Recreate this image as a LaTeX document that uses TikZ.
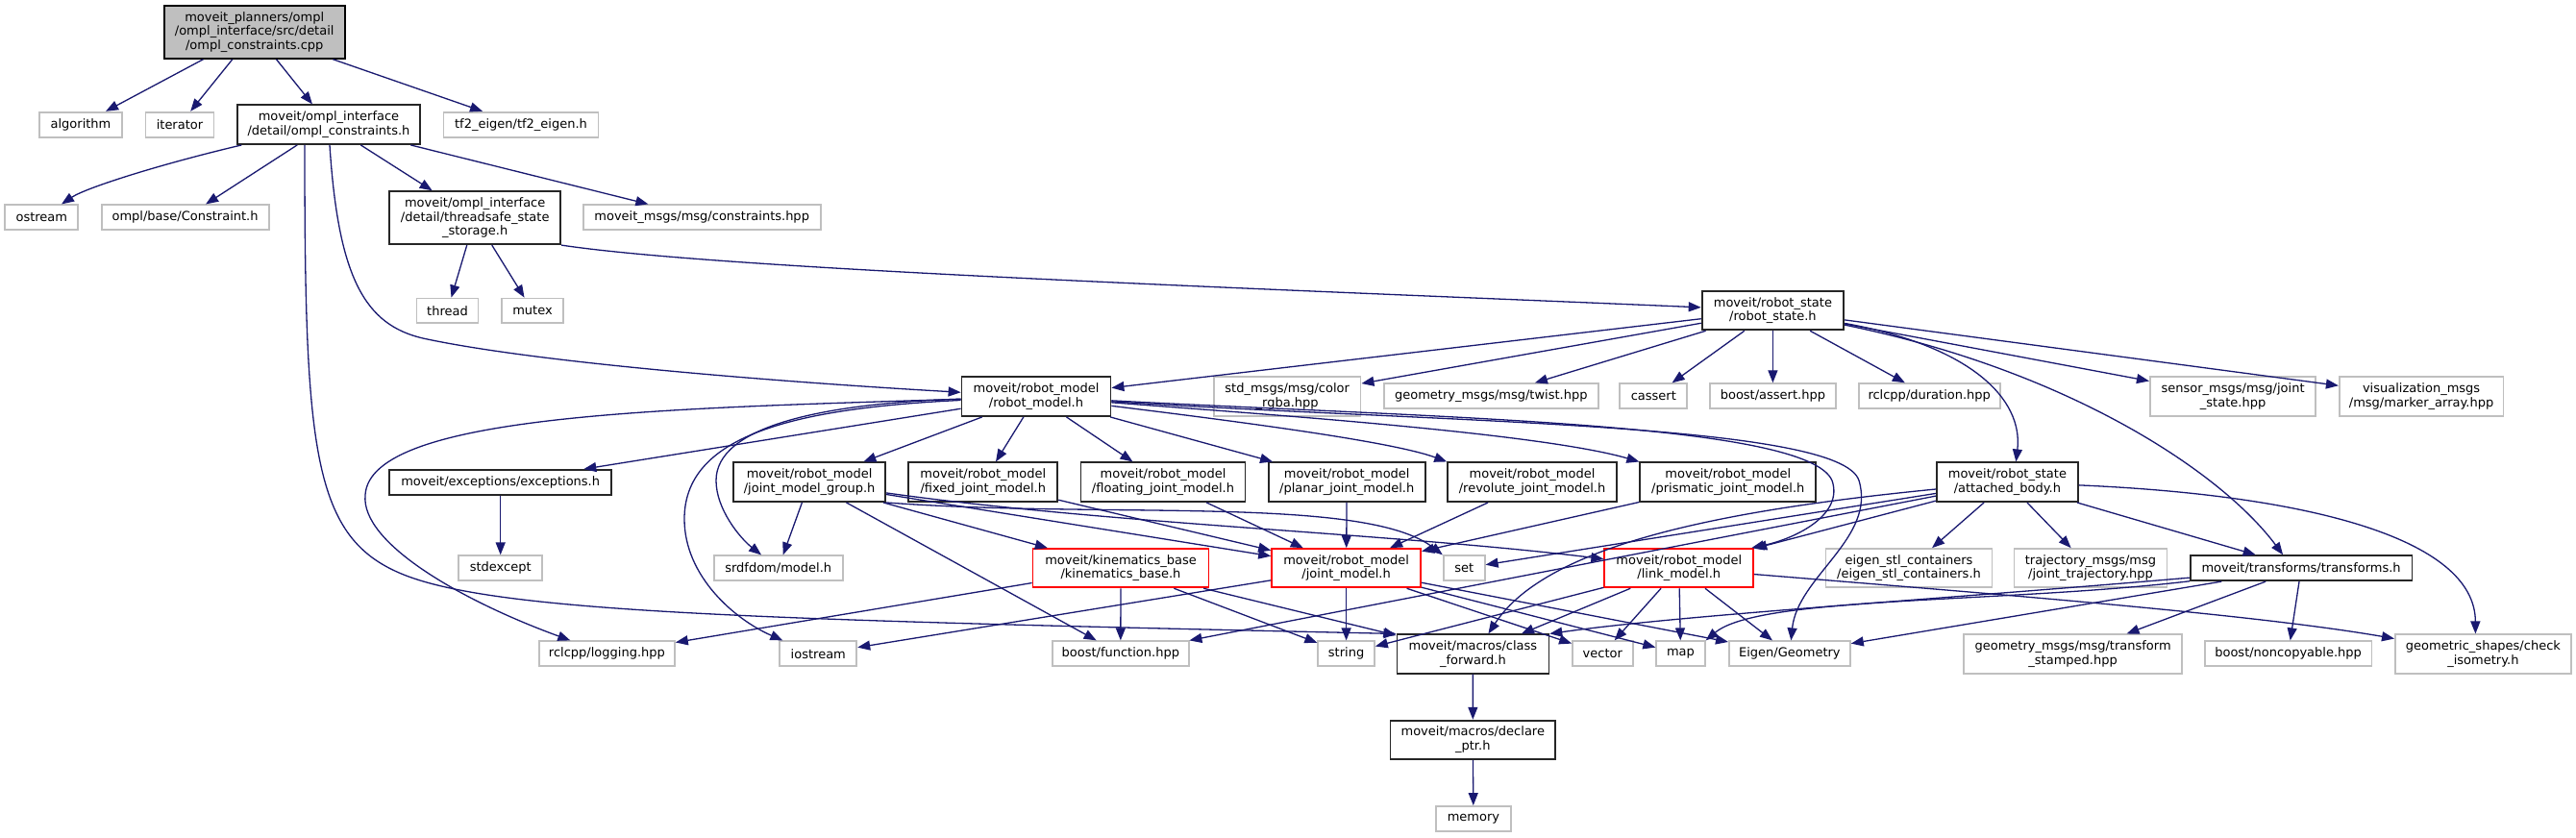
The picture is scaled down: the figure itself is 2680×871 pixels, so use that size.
\documentclass[tikz,border=0pt]{standalone}
\usepackage{fontspec}
\setmainfont{DejaVu Sans}
\usetikzlibrary{arrows.meta}
\definecolor{edgeblue}{HTML}{191970}
\definecolor{extgray}{HTML}{BFBFBF}
\definecolor{docgray}{HTML}{262626}
\definecolor{rootfill}{HTML}{BFBFBF}
\begin{document}
\begin{tikzpicture}[x=1pt,y=-1pt,
  box/.style={rectangle, inner sep=0pt, align=center, line width=1.8pt, fill=white,
    font=\fontsize{13pt}{14.5pt}\selectfont},
  doc/.style={box, draw=docgray},
  ext/.style={box, draw=extgray},
  trunc/.style={box, draw=red},
  rootbox/.style={box, draw=black, fill=rootfill},
  sz/.style 2 args={minimum width=#1pt, minimum height=#2pt},
  edge/.style={draw=edgeblue, line width=1.3pt, -{Triangle[length=13pt,width=10pt]}}]
\fill[white] (0,0) rectangle (2680,871);
\useasboundingbox (0,0) rectangle (2680,871);

% ---------- nodes ----------
\node[rootbox, sz={188}{55}] (root) at (264.7,33.3) {moveit\_planners/ompl\\/ompl\_interface/src/detail\\/ompl\_constraints.cpp};

\node[ext, sz={86}{26}] (algo) at (84,129.7) {algorithm};
\node[ext, sz={71}{26}] (iter) at (187,129.7) {iterator};
\node[doc, sz={190.6}{40.7}] (omplc) at (342,129.7) {moveit/ompl\_interface\\/detail/ompl\_constraints.h};
\node[ext, sz={161}{26}] (tf) at (542,129.7) {tf2\_eigen/tf2\_eigen.h};

\node[ext, sz={76}{26}] (ostream) at (43.3,226.3) {ostream};
\node[ext, sz={174}{26}] (constraint) at (192.6,226.3) {ompl/base/Constraint.h};
\node[doc, sz={178}{55}] (tss) at (494.2,226.7) {moveit/ompl\_interface\\/detail/threadsafe\_state\\\_storage.h};
\node[ext, sz={247}{26}] (msgs) at (730.2,226.3) {moveit\_msgs/msg/constraints.hpp};

\node[ext, sz={64}{25.5}] (thread) at (465.5,323.3) {thread};
\node[ext, sz={64}{25.5}] (mutex) at (554,323.3) {mutex};
\node[doc, sz={147.5}{40.7}] (rstate) at (1844.4,323) {moveit/robot\_state\\/robot\_state.h};

\node[doc, sz={155}{40.7}] (rmodel) at (1078,412.7) {moveit/robot\_model\\/robot\_model.h};
\node[ext, sz={152.7}{40.7}] (rgba) at (1339.2,412.7) {std\_msgs/msg/color\\\_rgba.hpp};
\node[ext, sz={223}{26}] (twist) at (1551.3,412.2) {geometry\_msgs/msg/twist.hpp};
\node[ext, sz={70}{26}] (cassert) at (1720.3,412.2) {cassert};
\node[ext, sz={131}{26}] (bassert) at (1844.4,412.2) {boost/assert.hpp};
\node[ext, sz={147}{26}] (duration) at (2007.2,412.2) {rclcpp/duration.hpp};
\node[ext, sz={172.5}{40.7}] (sensor) at (2323.1,412.7) {sensor\_msgs/msg/joint\\\_state.hpp};
\node[ext, sz={170.6}{40.7}] (vis) at (2519.1,412.7) {visualization\_msgs\\/msg/marker\_array.hpp};

\node[doc, sz={231}{26}] (exc) at (520.7,502) {moveit/exceptions/exceptions.h};
\node[doc, sz={158}{40.7}] (jmg) at (842.1,501.7) {moveit/robot\_model\\/joint\_model\_group.h};
\node[doc, sz={155}{40.7}] (fixed) at (1022.8,501.7) {moveit/robot\_model\\/fixed\_joint\_model.h};
\node[doc, sz={171}{40.7}] (floating) at (1210,501.7) {moveit/robot\_model\\/floating\_joint\_model.h};
\node[doc, sz={163}{40.7}] (planar) at (1401.2,501.7) {moveit/robot\_model\\/planar\_joint\_model.h};
\node[doc, sz={175.7}{40.7}] (revolute) at (1594,501.7) {moveit/robot\_model\\/revolute\_joint\_model.h};
\node[doc, sz={183}{40.7}] (prismatic) at (1797.8,501.7) {moveit/robot\_model\\/prismatic\_joint\_model.h};
\node[doc, sz={147}{40.7}] (ab) at (2088.4,501.7) {moveit/robot\_state\\/attached\_body.h};

\node[ext, sz={87}{26}] (stdexcept) at (520.7,591.3) {stdexcept};
\node[ext, sz={134}{26}] (srdf) at (809.7,591.3) {srdfdom/model.h};
\node[trunc, sz={183}{40.3}] (kin) at (1166,591.2) {moveit/kinematics\_base\\/kinematics\_base.h};
\node[trunc, sz={155}{40.3}] (jm) at (1400.6,591.2) {moveit/robot\_model\\/joint\_model.h};
\node[ext, sz={43}{26}] (setn) at (1523.2,591.2) {set};
\node[trunc, sz={155}{40.3}] (lm) at (1746.8,591.2) {moveit/robot\_model\\/link\_model.h};
\node[ext, sz={173}{40.3}] (eigenstl) at (1986,591.2) {eigen\_stl\_containers\\/eigen\_stl\_containers.h};
\node[ext, sz={159}{40.3}] (traj) at (2175,591.2) {trajectory\_msgs/msg\\/joint\_trajectory.hpp};
\node[doc, sz={230.6}{26}] (tfm) at (2394.1,591.2) {moveit/transforms/transforms.h};

\node[ext, sz={141}{26}] (logging) at (631.4,680.3) {rclcpp/logging.hpp};
\node[ext, sz={80}{26}] (iostream) at (851.3,680.3) {iostream};
\node[ext, sz={142.4}{26}] (bfunc) at (1165.8,680.3) {boost/function.hpp};
\node[ext, sz={58.6}{26}] (strn) at (1400.6,680.3) {string};
\node[doc, sz={158}{40.3}] (cf) at (1532.4,680.5) {moveit/macros/class\\\_forward.h};
\node[ext, sz={62.6}{26}] (vec) at (1667.3,680.3) {vector};
\node[ext, sz={50.5}{26}] (mapn) at (1748.5,680.3) {map};
\node[ext, sz={126}{26}] (eigen) at (1861.9,680.3) {Eigen/Geometry};
\node[ext, sz={227}{40.3}] (tstamped) at (2156.6,680.5) {geometry\_msgs/msg/transform\\\_stamped.hpp};
\node[ext, sz={173.7}{26}] (noncopy) at (2380.6,680.3) {boost/noncopyable.hpp};
\node[ext, sz={183}{40.3}] (geo) at (2583.4,680.5) {geometric\_shapes/check\\\_isometry.h};

\node[doc, sz={171.6}{40.3}] (declptr) at (1532.3,769.8) {moveit/macros/declare\\\_ptr.h};
\node[ext, sz={77.4}{26}] (memory) at (1532.9,852) {memory};

% ---------- edges ----------
\draw[edge] (root) -- (algo);
\draw[edge] (root) -- (iter);
\draw[edge] (root) -- (omplc);
\draw[edge] (root) -- (tf);

\draw[edge] (omplc) .. controls (170,170) and (90,195) .. (ostream);
\draw[edge] (omplc) -- (constraint);
\draw[edge] (omplc) -- (tss);
\draw[edge] (omplc) -- (msgs);
\draw[edge] ([xshift=1pt]omplc.south) .. controls (352,290) and (380,338) .. (440,352)
  .. controls (560,378) and (820,398) .. (rmodel);
\draw[edge] ([xshift=-25pt]omplc.south) .. controls (317,470) and (325,560) .. (420,598)
  .. controls (520,638) and (800,645) .. (cf.north west);

\draw[edge] (tss) -- (thread);
\draw[edge] (tss) -- (mutex);
\draw[edge] (tss.south east) .. controls (750,280) and (1300,300) .. (rstate);

\draw[edge] (rstate) -- (rmodel);
\draw[edge] (rstate) -- (rgba);
\draw[edge] (rstate) -- (twist);
\draw[edge] (rstate) -- (cassert);
\draw[edge] (rstate) -- (bassert);
\draw[edge] (rstate) -- (duration);
\draw[edge] (rstate) -- (sensor);
\draw[edge] (rstate) -- (vis);
\draw[edge] (rstate) .. controls (2050,360) and (2105,415) .. ([xshift=9pt]ab.north);
\draw[edge] (rstate) .. controls (2150,385) and (2310,490) .. ([xshift=-19pt]tfm.north);

\draw[edge] (rmodel) -- (exc);
\draw[edge] (rmodel) -- (jmg);
\draw[edge] (rmodel) -- (fixed);
\draw[edge] (rmodel) -- (floating);
\draw[edge] (rmodel) -- (planar);
\draw[edge] (rmodel) .. controls (1300,440) and (1450,460) .. (revolute.north west);
\draw[edge] (rmodel) .. controls (1300,430) and (1600,450) .. (prismatic.north west);
\draw[edge] (rmodel) .. controls (700,425) and (385,430) .. (380,515)
  .. controls (375,565) and (480,625) .. (logging);
\draw[edge] (rmodel) .. controls (850,420) and (745,445) .. (745,500)
  .. controls (745,530) and (770,560) .. (srdf);
\draw[edge] (rmodel) .. controls (820,425) and (712,455) .. (712,540)
  .. controls (712,600) and (765,645) .. ([xshift=4pt]iostream.north west);
\draw[edge] (rmodel) .. controls (1500,435) and (1880,440) .. (1906,500)
  .. controls (1918,535) and (1870,560) .. ([xshift=-3pt]lm.north east);
\draw[edge] (rmodel) .. controls (1500,440) and (1915,440) .. (1934,500)
  .. controls (1952,560) and (1870,600) .. (eigen);

\draw[edge] (exc) -- (stdexcept);

\draw[edge] (jmg) -- (srdf);
\draw[edge] (jmg) -- (bfunc);
\draw[edge] (jmg) -- (kin);
\draw[edge] (jmg) -- (jm);
\draw[edge] (jmg.south east) .. controls (1150,540) and (1420,515) .. (setn.north west);
\draw[edge] (jmg) .. controls (1150,545) and (1450,555) .. (lm);

\draw[edge] (fixed) -- (jm);
\draw[edge] (floating) -- (jm);
\draw[edge] (planar) -- (jm);
\draw[edge] (revolute) -- (jm);
\draw[edge] (prismatic) -- (jm);

\draw[edge] (kin) -- (logging);
\draw[edge] (kin) -- (bfunc);
\draw[edge] (kin) -- (strn);
\draw[edge] (kin) -- (cf);

\draw[edge] (jm) -- (iostream);
\draw[edge] (jm) -- (strn);
\draw[edge] (jm) -- (vec);
\draw[edge] (jm) -- (mapn);
\draw[edge] (jm) -- (eigen);

\draw[edge] (lm) -- (strn);
\draw[edge] (lm) -- (cf);
\draw[edge] (lm) -- (vec);
\draw[edge] (lm) -- (mapn);
\draw[edge] (lm) -- (eigen);
\draw[edge] (lm) .. controls (2100,620) and (2350,640) .. (geo);

\draw[edge] (ab) -- (setn);
\draw[edge] (ab) -- (lm);
\draw[edge] (ab) -- (eigenstl);
\draw[edge] (ab) -- (traj);
\draw[edge] (ab) -- (tfm);
\draw[edge] (ab) -- (bfunc);
\draw[edge] (ab) .. controls (1800,530) and (1610,565) .. ([xshift=16pt]cf.north);
\draw[edge] (ab) .. controls (2400,515) and (2575,560) .. ([xshift=-8pt]geo.north);

\draw[edge] (tfm) .. controls (2000,625) and (1750,640) .. (cf.north east);
\draw[edge] (tfm) .. controls (2080,628) and (1830,620) .. (mapn.north east);
\draw[edge] (tfm) -- (eigen);
\draw[edge] (tfm) -- (tstamped);
\draw[edge] (tfm) -- (noncopy);

\draw[edge] (cf) -- (declptr);
\draw[edge] (declptr) -- (memory);
\end{tikzpicture}
\end{document}
